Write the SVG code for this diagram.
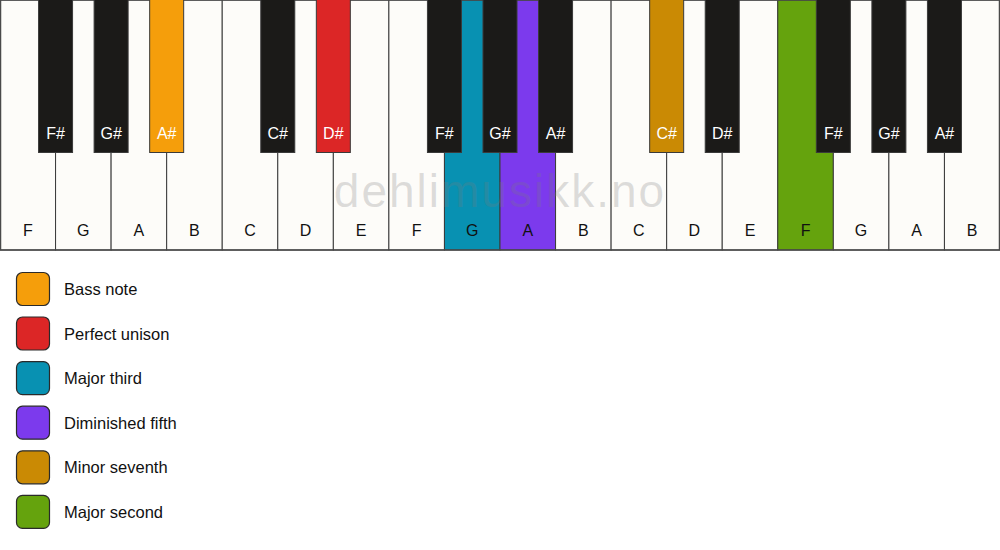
<svg xmlns="http://www.w3.org/2000/svg" width="1000" height="550" viewBox="0 0 1000 550">
<style>
.w{fill:#fdfcf9;stroke:#3a3a3a;stroke-width:1}
.b{fill:#1b1a18;stroke:#3a3a3a;stroke-width:1}
.wl{font-family:"Liberation Sans",Arial,sans-serif;font-size:16px;fill:#111;text-anchor:middle}
.bl{font-family:"Liberation Sans",Arial,sans-serif;font-size:16px;fill:#fff;text-anchor:middle}
.lg{stroke:#2a2a2a;stroke-width:1.2}
.lt{font-family:"Liberation Sans",Arial,sans-serif;font-size:16.5px;fill:#111}
.wm{font-family:"Liberation Sans",Arial,sans-serif;font-size:46px;fill:#7a7a7a;fill-opacity:0.25;letter-spacing:2px;text-anchor:middle}
</style>
<rect width="1000" height="550" fill="#ffffff"/>
<g id="white-keys">
<g id="wk-F1"><rect class="w" x="0.5" y="0" width="55.06" height="250"/><text class="wl" x="27.8" y="236">F</text></g>
<g id="wk-G1"><rect class="w" x="55.56" y="0" width="55.56" height="250"/><text class="wl" x="83.3" y="236">G</text></g>
<g id="wk-A1"><rect class="w" x="111.11" y="0" width="55.56" height="250"/><text class="wl" x="138.9" y="236">A</text></g>
<g id="wk-B1"><rect class="w" x="166.67" y="0" width="55.56" height="250"/><text class="wl" x="194.4" y="236">B</text></g>
<g id="wk-C1"><rect class="w" x="222.22" y="0" width="55.56" height="250"/><text class="wl" x="250" y="236">C</text></g>
<g id="wk-D1"><rect class="w" x="277.78" y="0" width="55.56" height="250"/><text class="wl" x="305.6" y="236">D</text></g>
<g id="wk-E1"><rect class="w" x="333.33" y="0" width="55.56" height="250"/><text class="wl" x="361.1" y="236">E</text></g>
<g id="wk-F2"><rect class="w" x="388.89" y="0" width="55.56" height="250"/><text class="wl" x="416.7" y="236">F</text></g>
<g id="wk-G2"><rect class="w" x="444.44" y="0" width="55.56" height="250" style="fill:#0891b2"/><text class="wl" x="472.2" y="236">G</text></g>
<g id="wk-A2"><rect class="w" x="500" y="0" width="55.56" height="250" style="fill:#7c3aed"/><text class="wl" x="527.8" y="236">A</text></g>
<g id="wk-B2"><rect class="w" x="555.56" y="0" width="55.56" height="250"/><text class="wl" x="583.3" y="236">B</text></g>
<g id="wk-C2"><rect class="w" x="611.11" y="0" width="55.56" height="250"/><text class="wl" x="638.9" y="236">C</text></g>
<g id="wk-D2"><rect class="w" x="666.67" y="0" width="55.56" height="250"/><text class="wl" x="694.4" y="236">D</text></g>
<g id="wk-E2"><rect class="w" x="722.22" y="0" width="55.56" height="250"/><text class="wl" x="750" y="236">E</text></g>
<g id="wk-F3"><rect class="w" x="777.78" y="0" width="55.56" height="250" style="fill:#65a30d"/><text class="wl" x="805.6" y="236">F</text></g>
<g id="wk-G3"><rect class="w" x="833.33" y="0" width="55.56" height="250"/><text class="wl" x="861.1" y="236">G</text></g>
<g id="wk-A3"><rect class="w" x="888.89" y="0" width="55.56" height="250"/><text class="wl" x="916.7" y="236">A</text></g>
<g id="wk-B3"><rect class="w" x="944.44" y="0" width="55.06" height="250"/><text class="wl" x="972.2" y="236">B</text></g>
</g>
<rect x="0.5" y="0" width="999" height="250" fill="none" stroke="#4a4a4a" stroke-width="1.5"/>
<g id="black-keys">
<g id="bk-Fs1"><rect class="b" x="38.56" y="-1" width="34" height="153.5"/><text class="bl" x="55.56" y="139">F#</text></g>
<g id="bk-Gs1"><rect class="b" x="94.11" y="-1" width="34" height="153.5"/><text class="bl" x="111.11" y="139">G#</text></g>
<g id="bk-As1"><rect class="b" x="149.67" y="-1" width="34" height="153.5" style="fill:#f59e0b"/><text class="bl" x="166.67" y="139">A#</text></g>
<g id="bk-Cs1"><rect class="b" x="260.78" y="-1" width="34" height="153.5"/><text class="bl" x="277.78" y="139">C#</text></g>
<g id="bk-Ds1"><rect class="b" x="316.33" y="-1" width="34" height="153.5" style="fill:#dc2626"/><text class="bl" x="333.33" y="139">D#</text></g>
<g id="bk-Fs2"><rect class="b" x="427.44" y="-1" width="34" height="153.5"/><text class="bl" x="444.44" y="139">F#</text></g>
<g id="bk-Gs2"><rect class="b" x="483" y="-1" width="34" height="153.5"/><text class="bl" x="500" y="139">G#</text></g>
<g id="bk-As2"><rect class="b" x="538.56" y="-1" width="34" height="153.5"/><text class="bl" x="555.56" y="139">A#</text></g>
<g id="bk-Cs2"><rect class="b" x="649.67" y="-1" width="34" height="153.5" style="fill:#ca8a04"/><text class="bl" x="666.67" y="139">C#</text></g>
<g id="bk-Ds2"><rect class="b" x="705.22" y="-1" width="34" height="153.5"/><text class="bl" x="722.22" y="139">D#</text></g>
<g id="bk-Fs3"><rect class="b" x="816.33" y="-1" width="34" height="153.5"/><text class="bl" x="833.33" y="139">F#</text></g>
<g id="bk-Gs3"><rect class="b" x="871.89" y="-1" width="34" height="153.5"/><text class="bl" x="888.89" y="139">G#</text></g>
<g id="bk-As3"><rect class="b" x="927.44" y="-1" width="34" height="153.5"/><text class="bl" x="944.44" y="139">A#</text></g>
</g>
<text class="wm" x="500" y="207">dehlimusikk.no</text>
<g id="legend">
<g id="lg-bass"><rect class="lg" x="16.5" y="272.5" width="33" height="33" rx="6" fill="#f59e0b"/><text class="lt" x="64" y="295">Bass note</text></g>
<g id="lg-unison"><rect class="lg" x="16.5" y="317" width="33" height="33" rx="6" fill="#dc2626"/><text class="lt" x="64" y="339.6">Perfect unison</text></g>
<g id="lg-third"><rect class="lg" x="16.5" y="361.6" width="33" height="33" rx="6" fill="#0891b2"/><text class="lt" x="64" y="384.2">Major third</text></g>
<g id="lg-fifth"><rect class="lg" x="16.5" y="406.2" width="33" height="33" rx="6" fill="#7c3aed"/><text class="lt" x="64" y="428.8">Diminished fifth</text></g>
<g id="lg-seventh"><rect class="lg" x="16.5" y="450.8" width="33" height="33" rx="6" fill="#ca8a04"/><text class="lt" x="64" y="473.4">Minor seventh</text></g>
<g id="lg-second"><rect class="lg" x="16.5" y="495.4" width="33" height="33" rx="6" fill="#65a30d"/><text class="lt" x="64" y="518">Major second</text></g>
</g>
</svg>
